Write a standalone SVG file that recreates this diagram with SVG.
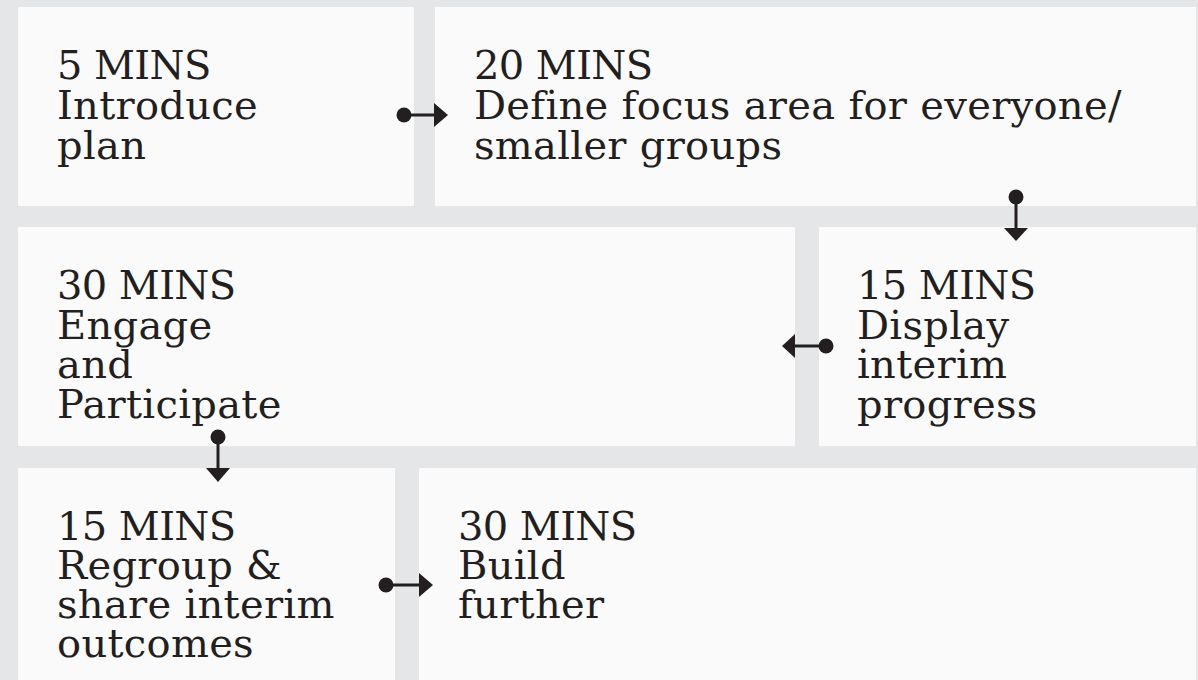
<svg xmlns="http://www.w3.org/2000/svg" width="1198" height="680" viewBox="0 0 1198 680">
<style>
.bg{fill:#e5e6e8}
.box{fill:#fafafa}
.t{font-family:"DejaVu Serif","Liberation Serif",serif;font-size:40px;fill:#231f20;letter-spacing:0.3px}
.h{letter-spacing:-0.6px}
.ln{stroke:#231f20;stroke-width:3;fill:none}
.dot{fill:#231f20}
.ah{fill:#231f20}
</style>
<rect class="bg" x="0" y="0" width="1198" height="680"/>
<g id="n1"><rect class="box" x="18" y="7" width="396" height="199"/>
<text class="t" x="57" y="79"><tspan class="h" x="57">5 MINS</tspan><tspan x="57" dy="40">Introduce</tspan><tspan x="57" dy="40">plan</tspan></text></g>
<g id="n2"><rect class="box" x="435" y="7" width="761" height="199"/>
<text class="t" x="474" y="79"><tspan class="h" x="474">20 MINS</tspan><tspan x="474" dy="40">Define focus area for everyone/</tspan><tspan x="474" dy="40">smaller groups</tspan></text></g>
<g id="n3"><rect class="box" x="18" y="227" width="777" height="219"/>
<text class="t" x="57" y="299"><tspan class="h" x="57">30 MINS</tspan><tspan x="57" dy="39.5">Engage</tspan><tspan x="57" dy="39.5">and</tspan><tspan x="57" dy="39.5">Participate</tspan></text></g>
<g id="n4"><rect class="box" x="819" y="227" width="377" height="219"/>
<text class="t" x="857" y="299"><tspan class="h" x="857">15 MINS</tspan><tspan x="857" dy="39.5">Display</tspan><tspan x="857" dy="39.5">interim</tspan><tspan x="857" dy="39.5">progress</tspan></text></g>
<g id="n5"><rect class="box" x="18" y="468" width="377" height="212"/>
<text class="t" x="57" y="540"><tspan class="h" x="57">15 MINS</tspan><tspan x="57" dy="39">Regroup &amp;</tspan><tspan x="57" dy="39">share interim</tspan><tspan x="57" dy="39">outcomes</tspan></text></g>
<g id="n6"><rect class="box" x="419" y="468" width="777" height="212"/>
<text class="t" x="458" y="540"><tspan class="h" x="458">30 MINS</tspan><tspan x="458" dy="39">Build</tspan><tspan x="458" dy="39">further</tspan></text></g>
<g id="connectors">
<g><circle class="dot" cx="404" cy="115" r="7.5"/><line class="ln" x1="404" y1="115" x2="436" y2="115"/><polygon class="ah" points="434,103 448,115 434,127"/></g>
<g><circle class="dot" cx="1016" cy="197" r="7.5"/><line class="ln" x1="1016" y1="197" x2="1016" y2="230"/><polygon class="ah" points="1004,228 1028,228 1016,241"/></g>
<g><circle class="dot" cx="826" cy="346" r="7.5"/><line class="ln" x1="826" y1="346" x2="793" y2="346"/><polygon class="ah" points="795,334 795,358 782,346"/></g>
<g><circle class="dot" cx="218" cy="437" r="7.5"/><line class="ln" x1="218" y1="437" x2="218" y2="470"/><polygon class="ah" points="206,468 230,468 218,482"/></g>
<g><circle class="dot" cx="386" cy="585" r="7.5"/><line class="ln" x1="386" y1="585" x2="421" y2="585"/><polygon class="ah" points="419,573 433,585 419,597"/></g>
</g>
</svg>
